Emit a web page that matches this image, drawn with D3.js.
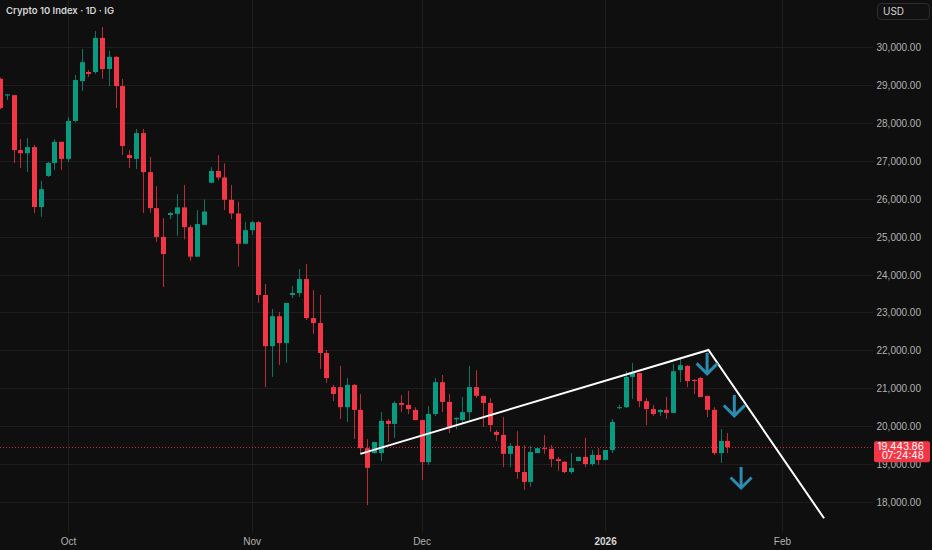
<!DOCTYPE html>
<html>
<head>
<meta charset="utf-8">
<script src="https://cdn.jsdelivr.net/npm/d3@7"></script>
<style>
  html, body { margin: 0; padding: 0; background: #0f0f0f; }
  svg { display: block; font-family: Inter, "Noto Sans", sans-serif; }
  .axis text { fill: #b2b2b2; font-size: 10px; }
  .axis .domain { display: none; }
  .grid line { stroke: #1e1e1e; }
  .grid .domain { display: none; }
</style>
</head>
<body>
<svg id="chart"></svg>
<script>
// daily bars, [open, high, low, close]
const ohlc = [
  [29160, 29190, 28360, 28390],
  [28720, 28760, 28600, 28750],
  [28730, 28740, 26940, 27280],
  [27280, 27570, 26810, 27200],
  [27200, 27600, 26700, 27360],
  [27360, 27420, 25620, 25780],
  [25780, 26470, 25520, 26250],
  [26600, 26970, 26570, 26940],
  [26940, 27570, 26760, 27500],
  [27500, 27500, 26760, 27050],
  [27050, 28150, 26970, 28050],
  [28050, 29260, 28020, 29130],
  [29100, 29950, 28840, 29600],
  [29340, 29390, 29210, 29290],
  [29340, 30420, 29290, 30240],
  [30240, 30530, 29160, 29420],
  [29420, 29900, 28970, 29740],
  [29740, 29760, 28390, 28970],
  [28970, 29160, 27150, 27390],
  [27150, 27280, 26810, 27070],
  [27050, 27840, 26780, 27730],
  [27730, 27840, 25620, 26700],
  [26700, 27100, 25630, 25750],
  [25750, 26330, 24860, 24990],
  [24990, 25490, 23670, 24540],
  [25570, 25650, 25460, 25620],
  [25600, 26120, 25020, 25770],
  [25770, 26360, 24930, 25250],
  [25250, 25310, 24360, 24470],
  [24470, 25700, 24460, 25330],
  [25310, 25980, 25300, 25660],
  [26420, 26830, 26410, 26730],
  [26730, 27150, 26490, 26560],
  [26560, 26930, 25700, 25970],
  [25970, 26360, 25460, 25610],
  [25610, 25920, 24210, 24810],
  [24810, 25390, 24800, 25170],
  [25170, 25410, 25040, 25380],
  [25380, 25410, 23250, 23460],
  [23460, 23750, 21030, 22110],
  [22110, 23090, 21300, 22900],
  [22900, 23010, 21610, 22190],
  [22190, 23250, 21670, 23250],
  [23460, 23700, 23380, 23510],
  [23510, 24150, 23410, 23880],
  [23880, 24280, 22800, 22850],
  [22850, 23590, 22430, 22720],
  [22720, 23460, 21510, 21930],
  [21930, 22010, 21140, 21270],
  [21030, 21090, 20660, 20850],
  [21030, 21590, 20190, 20500],
  [20500, 21270, 20110, 21090],
  [21090, 21110, 19660, 20430],
  [20430, 20850, 19290, 19420],
  [19420, 19660, 17920, 18900],
  [19290, 19590, 19280, 19580],
  [19290, 20370, 19080, 20140],
  [20140, 20190, 19580, 20060],
  [20060, 20660, 19690, 20610],
  [20610, 20820, 20370, 20560],
  [20560, 20930, 20320, 20450],
  [20430, 20500, 20160, 20160],
  [20160, 20170, 18580, 19050],
  [19050, 20530, 18980, 20320],
  [20320, 21270, 20270, 21160],
  [21160, 21350, 20370, 20640],
  [20640, 20850, 19820, 19950],
  [20180, 20230, 19920, 20220],
  [20160, 20770, 20080, 20370],
  [20370, 21590, 20160, 21030],
  [21030, 21480, 20740, 20800],
  [20800, 20800, 19980, 20610],
  [20610, 20740, 19850, 20030],
  [19850, 19900, 19610, 19770],
  [19770, 20240, 18920, 19270],
  [19270, 19560, 18920, 19480],
  [19480, 19870, 18610, 18790],
  [18790, 19500, 18320, 18530],
  [18530, 19480, 18400, 19320],
  [19290, 19430, 19290, 19420],
  [19420, 19770, 19270, 19400],
  [19400, 19500, 18920, 19130],
  [19130, 19190, 18820, 19080],
  [19060, 19080, 18760, 18790],
  [18790, 19290, 18740, 18900],
  [19080, 19190, 19080, 19190],
  [19190, 19690, 18920, 19000],
  [19000, 19370, 18950, 19240],
  [19240, 19420, 18980, 19110],
  [19110, 19370, 19100, 19370],
  [19370, 20190, 19290, 20110],
  [20480, 20560, 20450, 20500],
  [20500, 21450, 20480, 21300],
  [21300, 21670, 20720, 21400],
  [21400, 21410, 20500, 20660],
  [20660, 20740, 20030, 20450],
  [20450, 20560, 20270, 20320],
  [20370, 20450, 20270, 20430],
  [20430, 20770, 20190, 20350],
  [20350, 21640, 20340, 21450],
  [21480, 21800, 21160, 21610],
  [21590, 21610, 21030, 21190],
  [21220, 21240, 20850, 21190],
  [21270, 21300, 20770, 20770],
  [20800, 20800, 20240, 20430],
  [20430, 20500, 19240, 19290],
  [19290, 19930, 19030, 19610],
  [19610, 19820, 19290, 19443.86]
];

const monthTickBars = [10, 37, 62, 89, 115];
const monthTickLabels = ['Oct', 'Nov', 'Dec', '2026', 'Feb'];
const priceTicks = [18000, 19000, 20000, 21000, 22000, 23000, 24000, 25000, 26000, 27000, 28000, 29000, 30000];

// drawn annotations: [bar index, price]
const trendLine = [[53, 19270], [104.2, 22010], [121.2, 17570]];
const arrowTips = [[104, 21380], [108, 20270], [109, 18370]];

const lastPrice = 19443.86;
const countdown = '07:24:48';

const W = 932, H = 550;
const plotW = 873, plotH = 532;
const up = '#089981', down = '#f23645';

const svg = d3.select('#chart').attr('width', W).attr('height', H);
svg.append('rect').attr('width', W).attr('height', H).attr('fill', '#0f0f0f');

const x = d3.scaleLinear().domain([0, 128.4]).range([0, plotW]);
const y = d3.scaleLinear().domain([18000, 30000]).range([502, 47]);

svg.append('clipPath').attr('id', 'plot-clip')
  .append('rect').attr('width', plotW).attr('height', plotH);

// grid
svg.append('g').attr('class', 'grid')
  .call(d3.axisLeft(y).tickValues(priceTicks).tickSize(-plotW).tickFormat(''))
  .attr('shape-rendering', 'crispEdges');
svg.append('g').attr('class', 'grid')
  .call(d3.axisTop(x).tickValues(monthTickBars).tickSize(-plotH).tickFormat(''))
  .attr('shape-rendering', 'crispEdges');

const plot = svg.append('g').attr('clip-path', 'url(#plot-clip)');

// last price dotted line
plot.append('line')
  .attr('x1', 0).attr('x2', plotW)
  .attr('y1', Math.round(y(lastPrice)) + 0.5).attr('y2', Math.round(y(lastPrice)) + 0.5)
  .attr('stroke', down).attr('stroke-dasharray', '1,2').attr('opacity', 0.8);

// candles
const candle = plot.append('g').selectAll('g').data(ohlc).join('g')
  .attr('fill', d => d[3] >= d[0] ? up : down)
  .attr('stroke', d => d[3] >= d[0] ? up : down);

candle.append('line')
  .attr('x1', (d, i) => Math.round(x(i)) + 0.5)
  .attr('x2', (d, i) => Math.round(x(i)) + 0.5)
  .attr('y1', d => y(d[1]))
  .attr('y2', d => y(d[2]))
  .attr('stroke-opacity', 0.75);

candle.append('rect')
  .attr('x', (d, i) => Math.round(x(i)) - 2)
  .attr('width', 5)
  .attr('y', d => y(Math.max(d[0], d[3])))
  .attr('height', d => Math.max(1, Math.abs(y(d[0]) - y(d[3]))))
  .attr('stroke', 'none');

// trend lines
plot.append('path')
  .datum(trendLine)
  .attr('d', d3.line().x(d => x(d[0])).y(d => y(d[1])))
  .attr('fill', 'none')
  .attr('stroke', '#ffffff')
  .attr('stroke-width', 2);

// down arrows
const arrow = plot.append('g').selectAll('g').data(arrowTips).join('g')
  .attr('transform', d => `translate(${x(d[0])},${y(d[1])})`)
  .attr('fill', 'none')
  .attr('stroke', '#2b8bb0')
  .attr('stroke-width', 3);
arrow.append('line').attr('x1', 0).attr('x2', 0).attr('y1', -21).attr('y2', -1);
arrow.append('path').attr('d', 'M-10.5,-10.5L0,0L10.5,-10.5');

// y axis
svg.append('g').attr('class', 'axis')
  .attr('transform', `translate(${W - 8},0)`)
  .call(d3.axisLeft(y).tickValues(priceTicks).tickSize(0).tickFormat(d3.format(',.2f')))
  .selectAll('text').attr('dy', '0.35em');

// x axis
const xAxisG = svg.append('g').attr('class', 'axis')
  .attr('transform', `translate(0,${plotH + 3})`)
  .call(d3.axisBottom(x).tickValues(monthTickBars).tickSize(0).tickFormat((d, i) => monthTickLabels[i]));
xAxisG.selectAll('text').filter(d => d === 89).style('font-weight', 700).style('fill', '#d6d6d6');

// price label
const tag = svg.append('g').attr('transform', `translate(874,${y(lastPrice) - 6})`);
tag.append('rect').attr('width', 56).attr('height', 21).attr('rx', 2).attr('fill', down);
tag.append('text').attr('x', 50).attr('y', 8.5).attr('text-anchor', 'end')
  .attr('fill', '#fff').style('font-size', '10px').text(d3.format(',.2f')(lastPrice));
tag.append('text').attr('x', 50).attr('y', 18).attr('text-anchor', 'end')
  .attr('fill', '#fff').style('font-size', '10px').text(countdown);

// currency box
svg.append('rect').attr('x', 877.5).attr('y', 3.5).attr('width', 52).attr('height', 16).attr('rx', 4)
  .attr('fill', '#111').attr('stroke', '#2e2e2e');
svg.append('text').attr('x', 883).attr('y', 15).attr('fill', '#d6d6d6').style('font-size', '10px').text('USD');

// title
svg.append('text').attr('x', 6).attr('y', 14)
  .attr('fill', '#d6d6d6').style('font-size', '9.5px').style('font-weight', 600)
  .text('Crypto 10 Index · 1D · IG');
</script>
</body>
</html>
